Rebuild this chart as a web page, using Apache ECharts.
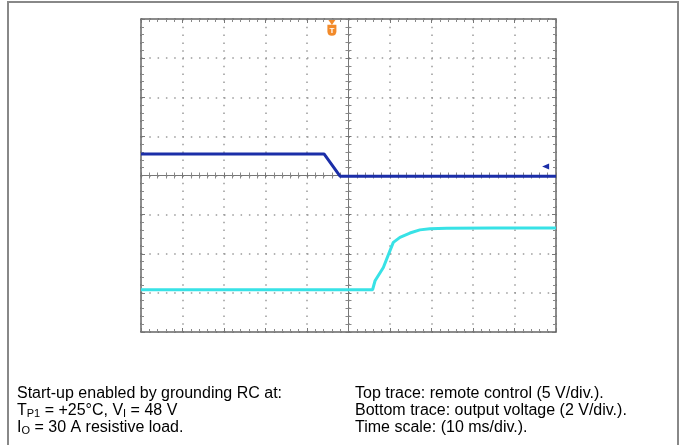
<!DOCTYPE html>
<html><head><meta charset="utf-8">
<script src="https://cdn.jsdelivr.net/npm/echarts@6/dist/echarts.min.js"></script>
<style>html,body{margin:0;padding:0;background:#fff}#c{width:683px;height:445px}</style>
</head><body><div id="c"></div>
<script>
// time axis: 10 ms/div, 10 divisions; vertical axis in screen divisions (8 divisions)
const blueTime = [0, 44.1, 48.0, 100];
const blueDiv  = [0.55, 0.55, -0.02, -0.02];
const cyanTime = [0, 55.8, 56.4, 58.4, 60.0, 60.8, 62.4, 64.8, 67.2, 69.6, 73.7, 85, 100];
const cyanDiv  = [-2.92, -2.92, -2.69, -2.35, -1.92, -1.71, -1.58, -1.47, -1.39, -1.36, -1.35, -1.34, -1.34];
const groundMark = [97.5, 0.23];
const trigMark = [46.0, 3.71];
const trigArrow = [46.0, 3.91];
const trigTop = [48.4, 4.06];
const posMark = [28.7, 4.07];
const leftLines = ['Start-up enabled by grounding RC at:', ['T','P1',' = +25°C, V','I',' = 48 V'], ['I','O',' = 30 A resistive load.']];
const rightLines = ['Top trace: remote control (5 V/div.).', 'Bottom trace: output voltage (2 V/div.).', 'Time scale: (10 ms/div.).'];

const zip = (a, b) => a.map((v, i) => [v, b[i]]);
function richLine(l){
  if (typeof l === 'string') return '{n|' + l + '}';
  return l.map((s, i) => (i % 2 ? '{s|' : '{n|') + s + '}').join('');
}
const rich = {
  n: {fontSize: 16, fontFamily: 'Liberation Sans, Arial', lineHeight: 17, fill: '#000'},
  s: {fontSize: 11, fontFamily: 'Liberation Sans, Arial', lineHeight: 11, padding: [6,0,0,0], fill: '#000'}
};
const G = {left: 141, top: 19, width: 415, height: 313};
const border = {lineStyle: {color: '#666', width: 1.5}};
const tick = {inside: true, length: 4, lineStyle: {color: '#777'}};
const minor = {show: true, splitNumber: 5, length: 3, lineStyle: {color: '#888'}};
function edgeX(pos, split){
  return {gridIndex: 0, type: 'value', min: 0, max: 100, interval: 10, position: pos,
    axisLine: Object.assign({onZero: false}, border), axisTick: tick, minorTick: minor,
    axisLabel: {show: false},
    splitLine: {show: split, lineStyle: {color: '#9a9a9a', width: 1.5, type: [1.5, 6.3]}}};
}
function edgeY(pos, split){
  return {gridIndex: 0, type: 'value', min: -4, max: 4, interval: 1, position: pos,
    axisLine: Object.assign({onZero: false}, border), axisTick: tick, minorTick: minor,
    axisLabel: {show: false},
    splitLine: {show: split, lineStyle: {color: '#9a9a9a', width: 1.5, type: [1.5, 6.8]}}};
}
function centerX(gi, inside){
  return {gridIndex: gi, type: 'value', min: -50, max: 50, interval: 10,
    axisLine: {onZero: true, lineStyle: {color: '#777', width: 1}},
    axisTick: {inside: inside, length: 3, lineStyle: {color: '#777'}},
    minorTick: {show: true, splitNumber: 5, length: 3, lineStyle: {color: '#888'}},
    axisLabel: {show: false}, splitLine: {show: false}};
}
function centerY(gi, inside){
  return {gridIndex: gi, type: 'value', min: -4, max: 4, interval: 1,
    axisLine: {onZero: true, lineStyle: {color: '#777', width: 1}},
    axisTick: {inside: inside, length: 3, lineStyle: {color: '#777'}},
    minorTick: {show: true, splitNumber: 5, length: 3, lineStyle: {color: '#888'}},
    axisLabel: {show: false}, splitLine: {show: false}};
}
const orange = '#f28a2a';
const chart = echarts.init(document.getElementById('c'), null, {renderer: 'canvas'});
chart.setOption({
  animation: false,
  backgroundColor: '#fff',
  grid: [Object.assign({}, G), Object.assign({}, G), Object.assign({}, G)],
  xAxis: [edgeX('bottom', true), edgeX('top', false), centerX(1, true), centerX(2, false)],
  yAxis: [edgeY('left', true), edgeY('right', false), centerY(1, true), centerY(2, false)],
  series: [
    {type: 'line', xAxisIndex: 0, yAxisIndex: 0, data: zip(blueTime, blueDiv), showSymbol: false, z: 5,
     lineStyle: {color: '#1b2ea8', width: 3}, silent: true,
     markPoint: {silent: true, data: [
       {coord: groundMark, symbol: 'triangle', symbolRotate: 90, symbolSize: [6, 7], itemStyle: {color: '#1b2ea8'}, label: {show: false}},
       {coord: posMark, symbol: 'rect', symbolSize: [3, 3], itemStyle: {color: '#222'}, label: {show: false}}
     ]}},
    {type: 'line', xAxisIndex: 0, yAxisIndex: 0, data: zip(cyanTime, cyanDiv), showSymbol: false, z: 5,
     lineStyle: {color: '#38e2e6', width: 3}, silent: true,
     markPoint: {silent: true, data: [
       {coord: trigMark, symbol: 'path://M0,0H10V7Q10,12 5,12Q0,12 0,7Z', symbolSize: [9, 11], itemStyle: {color: orange},
        label: {show: true, formatter: 'T', color: '#fff', fontSize: 8, fontWeight: 'bold', fontFamily: 'Liberation Sans'}},
       {coord: trigArrow, symbol: 'triangle', symbolRotate: 180, symbolSize: [7, 5], itemStyle: {color: orange}, label: {show: false}},
       {coord: trigTop, symbol: 'rect', symbolSize: [6, 3], itemStyle: {color: orange}, label: {show: false}}
     ]}}
  ],
  graphic: [
    {type: 'rect', silent: true, z: -10, shape: {x: 8, y: 2, width: 670, height: 470}, style: {fill: 'none', stroke: '#888', lineWidth: 2}},
    {type: 'text', left: 17, top: 386, silent: true, style: {text: leftLines.map(richLine).join('\n'), rich: rich}},
    {type: 'text', left: 355, top: 386, silent: true, style: {text: rightLines.map(richLine).join('\n'), rich: rich}}
  ]
});
</script></body></html>
